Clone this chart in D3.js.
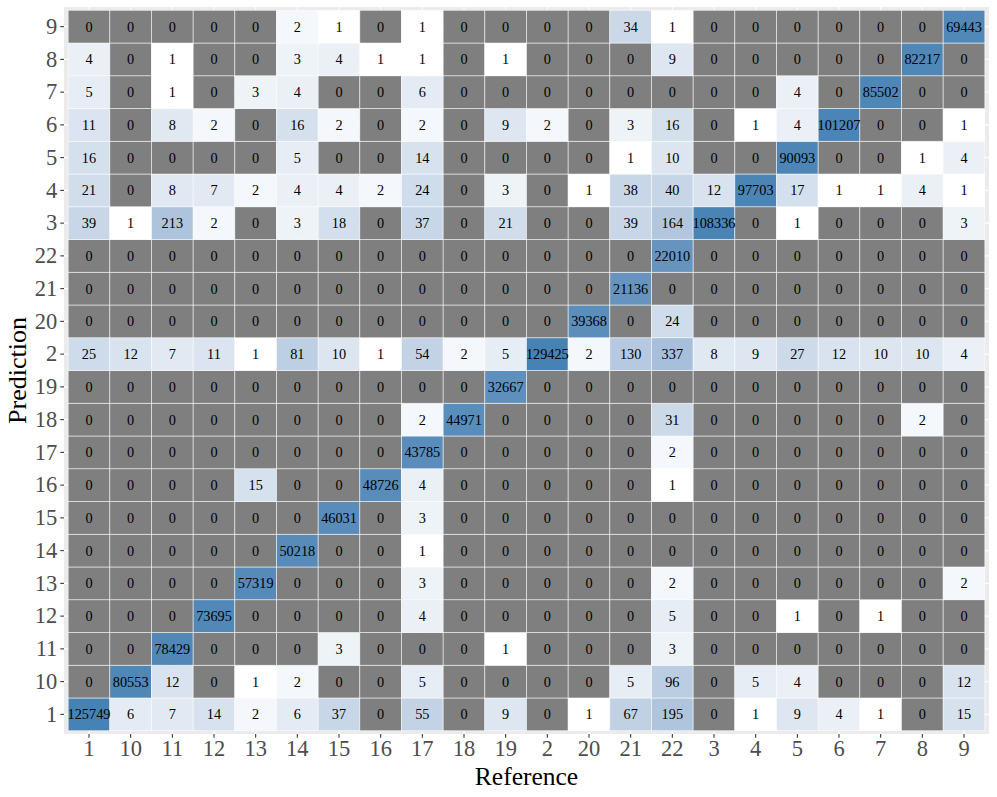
<!DOCTYPE html>
<html><head><meta charset="utf-8">
<script src="https://cdnjs.cloudflare.com/ajax/libs/d3/7.8.5/d3.min.js"></script>
<style>body{margin:0;background:#fff}svg{display:block}</style>
</head><body>
<svg id="chart" width="997" height="797"></svg>
<script>
// Category order (as in the reference axes)
const categories = ["1","10","11","12","13","14","15","16","17","18","19","2","20","21","22","3","4","5","6","7","8","9"];
// Rows of the confusion matrix, keyed by Prediction; values ordered by Reference (categories)
const pred1  = [125749,6,7,14,2,6,37,0,55,0,9,0,1,67,195,0,1,9,4,1,0,15];
const pred10 = [0,80553,12,0,1,2,0,0,5,0,0,0,0,5,96,0,5,4,0,0,0,12];
const pred11 = [0,0,78429,0,0,0,3,0,0,0,1,0,0,0,3,0,0,0,0,0,0,0];
const pred12 = [0,0,0,73695,0,0,0,0,4,0,0,0,0,0,5,0,0,1,0,1,0,0];
const pred13 = [0,0,0,0,57319,0,0,0,3,0,0,0,0,0,2,0,0,0,0,0,0,2];
const pred14 = [0,0,0,0,0,50218,0,0,1,0,0,0,0,0,0,0,0,0,0,0,0,0];
const pred15 = [0,0,0,0,0,0,46031,0,3,0,0,0,0,0,0,0,0,0,0,0,0,0];
const pred16 = [0,0,0,0,15,0,0,48726,4,0,0,0,0,0,1,0,0,0,0,0,0,0];
const pred17 = [0,0,0,0,0,0,0,0,43785,0,0,0,0,0,2,0,0,0,0,0,0,0];
const pred18 = [0,0,0,0,0,0,0,0,2,44971,0,0,0,0,31,0,0,0,0,0,2,0];
const pred19 = [0,0,0,0,0,0,0,0,0,0,32667,0,0,0,0,0,0,0,0,0,0,0];
const pred2  = [25,12,7,11,1,81,10,1,54,2,5,129425,2,130,337,8,9,27,12,10,10,4];
const pred20 = [0,0,0,0,0,0,0,0,0,0,0,0,39368,0,24,0,0,0,0,0,0,0];
const pred21 = [0,0,0,0,0,0,0,0,0,0,0,0,0,21136,0,0,0,0,0,0,0,0];
const pred22 = [0,0,0,0,0,0,0,0,0,0,0,0,0,0,22010,0,0,0,0,0,0,0];
const pred3  = [39,1,213,2,0,3,18,0,37,0,21,0,0,39,164,108336,0,1,0,0,0,3];
const pred4  = [21,0,8,7,2,4,4,2,24,0,3,0,1,38,40,12,97703,17,1,1,4,1];
const pred5  = [16,0,0,0,0,5,0,0,14,0,0,0,0,1,10,0,0,90093,0,0,1,4];
const pred6  = [11,0,8,2,0,16,2,0,2,0,9,2,0,3,16,0,1,4,101207,0,0,1];
const pred7  = [5,0,1,0,3,4,0,0,6,0,0,0,0,0,0,0,0,4,0,85502,0,0];
const pred8  = [4,0,1,0,0,3,4,1,1,0,1,0,0,0,9,0,0,0,0,0,82217,0];
const pred9  = [0,0,0,0,0,2,1,0,1,0,0,0,0,34,1,0,0,0,0,0,0,69443];
const rowsByPred = {"1":pred1,"10":pred10,"11":pred11,"12":pred12,"13":pred13,"14":pred14,"15":pred15,"16":pred16,"17":pred17,"18":pred18,"19":pred19,"2":pred2,"20":pred20,"21":pred21,"22":pred22,"3":pred3,"4":pred4,"5":pred5,"6":pred6,"7":pred7,"8":pred8,"9":pred9};

const cells = [];
categories.forEach(p => rowsByPred[p].forEach((v, j) => cells.push({pred: p, ref: categories[j], n: v})));

const svg = d3.select("#chart");
const panel = {x0: 64, x1: 989, y0: 7, y1: 734};
const n = categories.length;
const expand = 0.6;
// band scales with ggplot-like discrete expansion
const bwX = (panel.x1 - panel.x0) / (n - 1 + 2 * expand);
const bwY = (panel.y1 - panel.y0) / (n - 1 + 2 * expand);
const x = d3.scaleBand().domain(categories)
  .range([panel.x0 + (expand - 0.5) * bwX, panel.x1 - (expand - 0.5) * bwX]).padding(0);
const y = d3.scaleBand().domain(categories.slice().reverse())
  .range([panel.y0 + (expand - 0.5) * bwY, panel.y1 - (expand - 0.5) * bwY]).padding(0);

const maxN = d3.max(cells, d => d.n);
const color = d3.scaleLog().domain([1, maxN]).range(["#ffffff", "steelblue"]).interpolate(d3.interpolateLab);

// panel background
svg.append("rect").attr("x", panel.x0).attr("y", panel.y0)
  .attr("width", panel.x1 - panel.x0).attr("height", panel.y1 - panel.y0).attr("fill", "#EBEBEB");
// grid lines
svg.append("g").selectAll("line.v").data(categories).join("line")
  .attr("x1", d => x(d) + x.bandwidth() / 2).attr("x2", d => x(d) + x.bandwidth() / 2)
  .attr("y1", panel.y0).attr("y2", panel.y1).attr("stroke", "#fff").attr("stroke-width", 1.07);
svg.append("g").selectAll("line.h").data(categories).join("line")
  .attr("y1", d => y(d) + y.bandwidth() / 2).attr("y2", d => y(d) + y.bandwidth() / 2)
  .attr("x1", panel.x0).attr("x2", panel.x1).attr("stroke", "#fff").attr("stroke-width", 1.07);

// tiles
svg.append("g").selectAll("rect").data(cells).join("rect")
  .attr("x", d => x(d.ref)).attr("y", d => y(d.pred))
  .attr("width", x.bandwidth()).attr("height", y.bandwidth())
  .attr("fill", d => d.n > 0 ? color(d.n) : "#7F7F7F")
  .attr("stroke", "#ffffff").attr("stroke-opacity", 0.75).attr("stroke-width", 0.7);

// labels
svg.append("g").selectAll("text").data(cells).join("text")
  .attr("x", d => x(d.ref) + x.bandwidth() / 2).attr("y", d => y(d.pred) + y.bandwidth() / 2)
  .attr("text-anchor", "middle").attr("dominant-baseline", "central")
  .attr("font-family", "Liberation Serif, serif").attr("font-size", 14.3).attr("fill", "#000")
  .text(d => d.n);

// axes
const xAxis = svg.append("g").attr("transform", `translate(0,${panel.y1})`)
  .call(d3.axisBottom(x).tickSize(3.7).tickPadding(2.5));
const yAxis = svg.append("g").attr("transform", `translate(${panel.x0},0)`)
  .call(d3.axisLeft(y).tickSize(3.7).tickPadding(3));
[xAxis, yAxis].forEach(a => {
  a.select(".domain").remove();
  a.selectAll(".tick line").attr("stroke", "#333333").attr("stroke-width", 1.07);
  a.selectAll(".tick text").attr("fill", "#4D4D4D").attr("font-family", "Liberation Serif, serif").attr("font-size", 22.5);
});

svg.append("text").attr("x", (panel.x0 + panel.x1) / 2).attr("y", 785)
  .attr("text-anchor", "middle").attr("font-family", "Liberation Serif, serif").attr("font-size", 25.5)
  .attr("fill", "#000").text("Reference");
svg.append("text").attr("transform", `translate(26,${(panel.y0 + panel.y1) / 2}) rotate(-90)`)
  .attr("text-anchor", "middle").attr("font-family", "Liberation Serif, serif").attr("font-size", 26)
  .attr("fill", "#000").text("Prediction");
</script>
</body></html>
